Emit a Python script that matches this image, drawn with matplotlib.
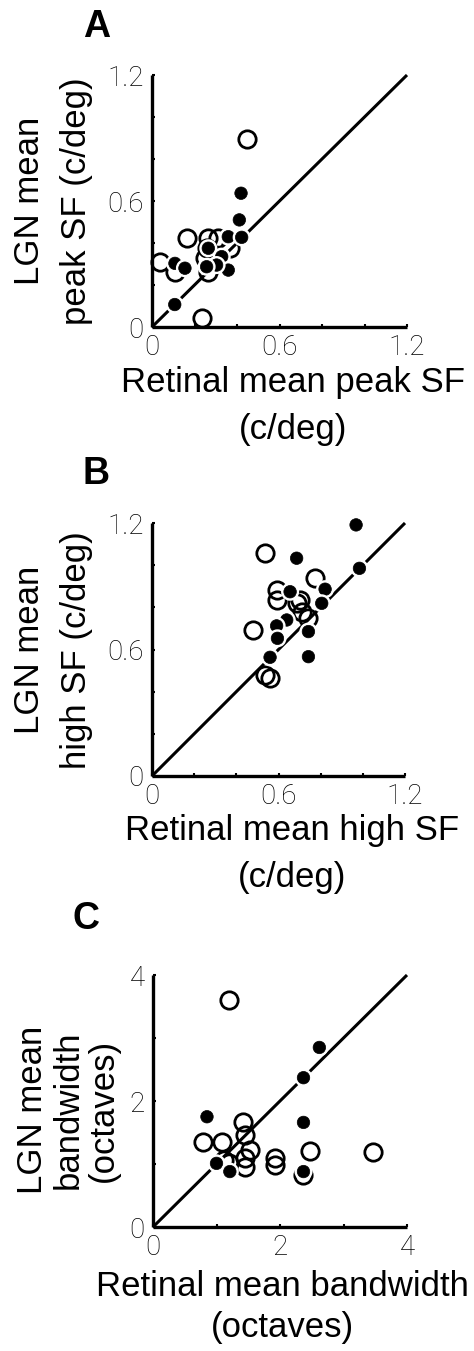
import matplotlib
matplotlib.use("Agg")
import matplotlib.pyplot as plt
import matplotlib.patheffects as pe

# ---------------- data ----------------
# Panel A: mean peak SF (c/deg)
a_open_retina = [0.163, 0.265, 0.312, 0.367, 0.257, 0.249, 0.265, 0.038, 0.108, 0.446, 0.234]
a_open_lgn    = [0.422, 0.422, 0.422, 0.375, 0.375, 0.329, 0.263, 0.311, 0.263, 0.894, 0.044]
a_fill_retina = [0.265, 0.359, 0.422, 0.328, 0.108, 0.155, 0.359, 0.304, 0.257, 0.107, 0.419, 0.411]
a_fill_lgn    = [0.375, 0.430, 0.427, 0.335, 0.303, 0.280, 0.271, 0.295, 0.287, 0.107, 0.637, 0.510]

# Panel B: mean high SF (c/deg)
b_open_retina = [0.536, 0.773, 0.591, 0.591, 0.702, 0.710, 0.742, 0.481, 0.536, 0.560, 0.690]
b_open_lgn    = [1.056, 0.938, 0.882, 0.835, 0.835, 0.779, 0.748, 0.693, 0.479, 0.463, 0.822]
b_fill_retina = [0.686, 0.655, 0.821, 0.805, 0.639, 0.591, 0.595, 0.742, 0.742, 0.560, 0.968, 0.984]
b_fill_lgn    = [1.033, 0.874, 0.886, 0.819, 0.740, 0.712, 0.653, 0.685, 0.566, 0.563, 1.191, 0.985]

# Panel C: mean bandwidth (octaves)
c_open_retina = [1.195, 1.42, 1.45, 1.08, 0.79, 1.52, 1.45, 1.45, 1.92, 1.92, 2.48, 3.47, 2.37, 1.12, 1.20]
c_open_lgn    = [3.60, 1.67, 1.46, 1.35, 1.35, 1.22, 1.09, 0.96, 1.09, 0.98, 1.20, 1.19, 0.83, 1.06, 1.02]
c_fill_retina = [2.62, 2.37, 0.85, 2.37, 1.00, 1.21, 2.37]
c_fill_lgn    = [2.85, 2.37, 1.75, 1.66, 1.01, 0.88, 0.88]

panels = [
    dict(letter="A", lim=1.2, ticks=[0, 0.6, 1.2], ticklabels=["0", "0.6", "1.2"],
         minor=[0.2, 0.4, 0.8, 1.0],
         open=(a_open_retina, a_open_lgn), fill=(a_fill_retina, a_fill_lgn),
         xlabel="Retinal mean peak SF\n(c/deg)", ylabel="LGN mean\npeak SF (c/deg)"),
    dict(letter="B", lim=1.2, ticks=[0, 0.6, 1.2], ticklabels=["0", "0.6", "1.2"],
         minor=[0.2, 0.4, 0.8, 1.0],
         open=(b_open_retina, b_open_lgn), fill=(b_fill_retina, b_fill_lgn),
         xlabel="Retinal mean high SF\n(c/deg)", ylabel="LGN mean\nhigh SF (c/deg)"),
    dict(letter="C", lim=4.0, ticks=[0, 2, 4], ticklabels=["0", "2", "4"],
         minor=[1, 3],
         open=(c_open_retina, c_open_lgn), fill=(c_fill_retina, c_fill_lgn),
         xlabel="Retinal mean bandwidth\n(octaves)", ylabel="LGN mean\nbandwidth\n(octaves)"),
]

W, H = 474, 1351
fig = plt.figure(figsize=(W / 100, H / 100), dpi=100)
LAB = ["Liberation Sans", "DejaVu Sans"]
TICK = ["Roboto", "Liberation Sans", "DejaVu Sans"]

# pixel geometry of each axes: left, top, right, bottom
geom = [(152, 75, 407, 327), (152, 523, 405, 776), (153, 975, 407, 1227)]
letter_pos = [(97, 27), (96, 474), (86, 919)]
xlab_pos = [(293, 366, 1.53), (292, 814, 1.53), (282, 1270, 1.32)]
ylab_pos = [(53, 201, 1.57), (53, 650, 1.57), (68, 1110, 1.1)]

for p, (l, t, r, b), (lx, ly), (xx, xy, xls), (yx, yy, yls) in zip(
        panels, geom, letter_pos, xlab_pos, ylab_pos):
    ax = fig.add_axes([l / W, 1 - b / H, (r - l) / W, (b - t) / H])
    lim = p["lim"]
    ax.set_xlim(0, lim)
    ax.set_ylim(0, lim)
    for s in ["top", "right"]:
        ax.spines[s].set_visible(False)
    for s in ["left", "bottom"]:
        ax.spines[s].set_linewidth(2.4)
        ax.spines[s].set_capstyle("butt")
    ax.set_xticks(p["ticks"])
    ax.set_yticks(p["ticks"])
    ax.set_xticks(p["minor"], minor=True)
    ax.set_yticks(p["minor"], minor=True)
    ax.set_xticklabels(p["ticklabels"], family=TICK, fontweight="light", fontsize=20)
    ax.set_yticklabels(p["ticklabels"], family=TICK, fontweight="light", fontsize=20)
    ax.tick_params(which="both", direction="in", length=2.5, width=1.5)
    ax.tick_params(axis="x", which="major", pad=5)
    ax.tick_params(axis="y", which="major", pad=6)

    # identity line
    ax.plot([0, lim], [0, lim], color="black", lw=2.2, clip_on=False, zorder=2,
            solid_capstyle="butt")
    # open circles
    ax.plot(p["open"][0], p["open"][1], linestyle="none", marker="o", markersize=12.5,
            markerfacecolor="none", markeredgecolor="black", markeredgewidth=2.0,
            clip_on=False, zorder=3)
    # filled circles with white halo
    ax.plot(p["fill"][0], p["fill"][1], linestyle="none", marker="o", markersize=9,
            markerfacecolor="black", markeredgecolor="black", markeredgewidth=0.5,
            clip_on=False, zorder=4,
            path_effects=[pe.withStroke(linewidth=4.0, foreground="white")])

    fig.text(lx / W, 1 - ly / H, p["letter"], family=LAB, fontweight="bold",
             fontsize=27, ha="center", va="center")
    fig.text(xx / W, 1 - xy / H, p["xlabel"], family=LAB, fontsize=25,
             ha="center", va="top", linespacing=xls)
    fig.text(yx / W, 1 - yy / H, p["ylabel"], family=LAB, fontsize=25,
             ha="center", va="center", rotation=90, linespacing=yls)

fig.savefig("out.png", dpi=100)
